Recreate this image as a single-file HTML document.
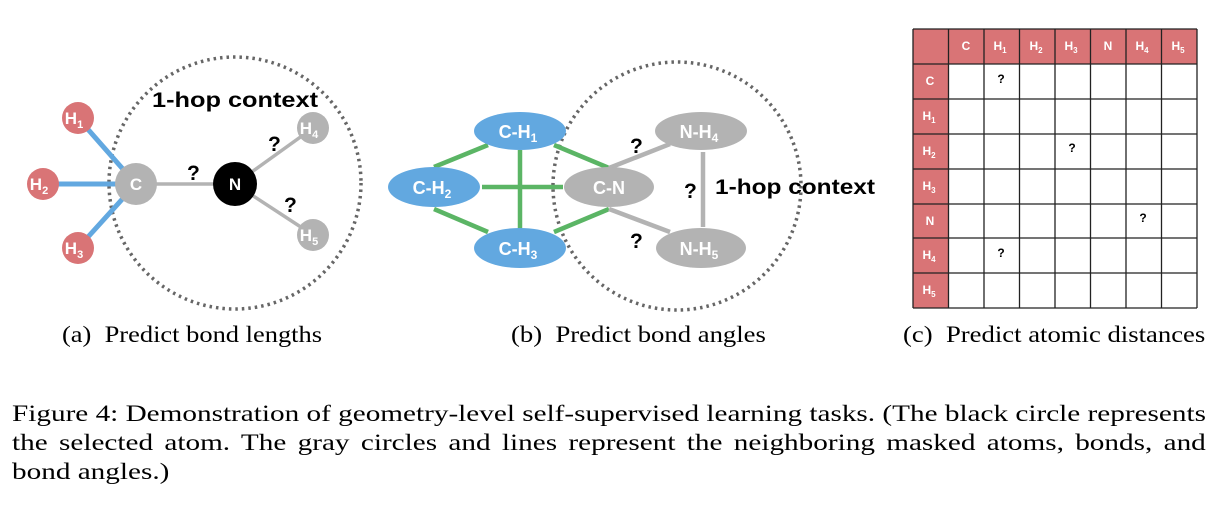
<!DOCTYPE html>
<html><head><meta charset="utf-8"><style>
body{margin:0;background:#fff;width:1224px;height:508px;overflow:hidden;position:relative}
.cap{position:absolute;font-family:"Liberation Serif",serif;font-size:23px;color:#000;white-space:nowrap;transform-origin:0 0}
.ln{position:absolute;left:12px;width:940px;font-family:"Liberation Serif",serif;font-size:23px;line-height:29px;color:#000;white-space:nowrap;transform:scaleX(1.27);transform-origin:0 0}
.j{text-align:justify;text-align-last:justify}
</style></head><body>
<svg width="1224" height="320" style="position:absolute;left:0;top:0" font-family="Liberation Sans, sans-serif" font-weight="bold">
<circle cx="235" cy="183" r="126" fill="none" stroke="#666" stroke-width="3.5" stroke-dasharray="2.5 4"/>
<g stroke="#62a8e0" stroke-width="5">
<line x1="78" y1="118" x2="136" y2="184"/><line x1="43" y1="184" x2="136" y2="184"/><line x1="78" y1="248" x2="136" y2="184"/></g>
<g stroke="#b3b3b3" stroke-width="3.5">
<line x1="136" y1="184" x2="235" y2="184"/><line x1="235" y1="184" x2="313" y2="128"/><line x1="235" y1="184" x2="313" y2="235"/></g>
<g fill="#d97476"><circle cx="78" cy="118" r="16"/><circle cx="43" cy="184" r="16"/><circle cx="78" cy="248" r="16"/></g>
<circle cx="136" cy="184" r="21" fill="#b3b3b3"/><circle cx="235" cy="184" r="22" fill="#000"/>
<g fill="#b3b3b3"><circle cx="313" cy="128" r="16"/><circle cx="313" cy="235" r="16"/></g>
<g fill="#fff" font-size="17" text-anchor="middle">
<text x="74" y="124">H<tspan font-size="11" dy="4">1</tspan></text>
<text x="39" y="190">H<tspan font-size="11" dy="4">2</tspan></text>
<text x="74" y="254">H<tspan font-size="11" dy="4">3</tspan></text>
<text x="136" y="190">C</text><text x="235" y="190">N</text>
<text x="309" y="134">H<tspan font-size="11" dy="4">4</tspan></text>
<text x="309" y="241">H<tspan font-size="11" dy="4">5</tspan></text></g>
<g font-size="21" fill="#000"><text x="152" y="107" textLength="166" lengthAdjust="spacingAndGlyphs">1-hop context</text>
<text x="187" y="180">?</text><text x="268" y="151">?</text><text x="284" y="212">?</text></g>
<circle cx="677" cy="186" r="124" fill="none" stroke="#666" stroke-width="3.5" stroke-dasharray="2.5 4"/>
<g stroke="#5bb565" stroke-width="4.5">
<line x1="488" y1="145" x2="434" y2="167"/><line x1="434" y1="209" x2="488" y2="232"/>
<line x1="520" y1="150" x2="520" y2="229"/><line x1="482" y1="187" x2="563" y2="187"/>
<line x1="554" y1="145" x2="609" y2="168"/><line x1="554" y1="232" x2="609" y2="209"/></g>
<g stroke="#b3b3b3" stroke-width="4.5">
<line x1="609" y1="168" x2="670" y2="144"/><line x1="609" y1="209" x2="670" y2="232"/>
<line x1="703" y1="152" x2="703" y2="227"/></g>
<g fill="#62a8e0"><ellipse cx="520" cy="131" rx="46" ry="19"/><ellipse cx="434" cy="187" rx="46" ry="20"/><ellipse cx="520" cy="248" rx="46" ry="20"/></g>
<g fill="#b3b3b3"><ellipse cx="609" cy="187" rx="45" ry="20"/><ellipse cx="701" cy="131" rx="46" ry="19"/><ellipse cx="701" cy="248" rx="45" ry="20"/></g>
<g fill="#fff" font-size="18" text-anchor="middle">
<text x="518" y="138">C-H<tspan font-size="12" dy="4">1</tspan></text>
<text x="432" y="194">C-H<tspan font-size="12" dy="4">2</tspan></text>
<text x="518" y="255">C-H<tspan font-size="12" dy="4">3</tspan></text>
<text x="609" y="194">C-N</text>
<text x="699" y="138">N-H<tspan font-size="12" dy="4">4</tspan></text>
<text x="699" y="255">N-H<tspan font-size="12" dy="4">5</tspan></text></g>
<g font-size="21" fill="#000"><text x="715" y="194" textLength="160" lengthAdjust="spacingAndGlyphs">1-hop context</text>
<text x="630" y="153">?</text><text x="684" y="198">?</text><text x="630" y="248">?</text></g>
<rect x="913" y="29" width="284" height="35" fill="#d97476"/>
<rect x="913" y="29" width="35.5" height="279" fill="#d97476"/>
<g stroke="#222" stroke-width="1.3">
<line x1="913" y1="29" x2="1197" y2="29"/><line x1="913" y1="64" x2="1197" y2="64"/><line x1="913" y1="99" x2="1197" y2="99"/><line x1="913" y1="134" x2="1197" y2="134"/><line x1="913" y1="169" x2="1197" y2="169"/><line x1="913" y1="204" x2="1197" y2="204"/><line x1="913" y1="238" x2="1197" y2="238"/><line x1="913" y1="273" x2="1197" y2="273"/><line x1="913" y1="308" x2="1197" y2="308"/>
<line x1="913" y1="29" x2="913" y2="308"/><line x1="948.5" y1="29" x2="948.5" y2="308"/><line x1="984" y1="29" x2="984" y2="308"/><line x1="1019.5" y1="29" x2="1019.5" y2="308"/><line x1="1055" y1="29" x2="1055" y2="308"/><line x1="1090.5" y1="29" x2="1090.5" y2="308"/><line x1="1126" y1="29" x2="1126" y2="308"/><line x1="1161.5" y1="29" x2="1161.5" y2="308"/><line x1="1197" y1="29" x2="1197" y2="308"/></g>
<g fill="#fff" font-size="12" text-anchor="middle">
<text x="966" y="50">C</text><text x="1000" y="50">H<tspan font-size="8" dy="3">1</tspan></text><text x="1036" y="50">H<tspan font-size="8" dy="3">2</tspan></text><text x="1071" y="50">H<tspan font-size="8" dy="3">3</tspan></text><text x="1108" y="50">N</text><text x="1142" y="50">H<tspan font-size="8" dy="3">4</tspan></text><text x="1178" y="50">H<tspan font-size="8" dy="3">5</tspan></text>
<text x="930" y="85">C</text><text x="929" y="120">H<tspan font-size="8" dy="3">1</tspan></text><text x="929" y="155">H<tspan font-size="8" dy="3">2</tspan></text><text x="929" y="190">H<tspan font-size="8" dy="3">3</tspan></text><text x="930" y="225">N</text><text x="929" y="259">H<tspan font-size="8" dy="3">4</tspan></text><text x="929" y="294">H<tspan font-size="8" dy="3">5</tspan></text></g>
<g fill="#000" font-size="12" text-anchor="middle">
<text x="1001" y="83">?</text><text x="1072" y="152">?</text><text x="1143" y="222">?</text><text x="1001" y="257">?</text></g>
</svg>
<div class="cap" style="left:62px;top:322px;transform:scaleX(1.15)">(a)&nbsp; Predict bond lengths</div>
<div class="cap" style="left:511px;top:322px;transform:scaleX(1.16)">(b)&nbsp; Predict bond angles</div>
<div class="cap" style="left:903px;top:322px;transform:scaleX(1.16)">(c)&nbsp; Predict atomic distances</div>
<div class="ln j" style="top:399px">Figure 4: Demonstration of geometry-level self-supervised learning tasks. (The black circle represents</div>
<div class="ln j" style="top:428px">the selected atom. The gray circles and lines represent the neighboring masked atoms, bonds, and</div>
<div class="ln" style="top:457px">bond angles.)</div>
</body></html>
